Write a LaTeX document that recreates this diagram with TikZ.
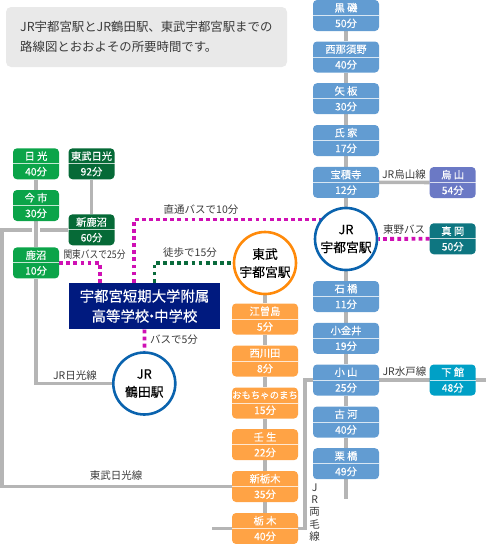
\documentclass[tikz,border=0pt]{standalone}
\usepackage{fontspec}
\usepackage{graphicx}
\setmainfont{Noto Sans CJK JP}
\newfontfamily\medfont[FakeBold=0.25]{Noto Sans CJK JP}
\pgfdeclarelayer{bg}
\pgfsetlayers{bg,main}
\definecolor{cblue}{HTML}{629CD2}
\definecolor{corange}{HTML}{FFA345}
\definecolor{cgreen}{HTML}{0BA449}
\definecolor{cdgreen}{HTML}{066A37}
\definecolor{cviolet}{HTML}{6B79C5}
\definecolor{cteal}{HTML}{0E7681}
\definecolor{ccyan}{HTML}{00A0C6}
\definecolor{cnavy}{HTML}{001A7F}
\definecolor{cmag}{HTML}{CF10B4}
\definecolor{cwalk}{HTML}{0A6B3C}
\definecolor{cline}{HTML}{B5B5B5}
\definecolor{ctext}{HTML}{3A3A3A}
\definecolor{cnote}{HTML}{E9E9E9}
\definecolor{cringb}{HTML}{0A63AE}
\definecolor{cringo}{HTML}{FF8A0A}
\tikzset{
  x=1pt,y=-1pt,
  stnbox/.style={rounded corners=4pt,minimum height=31,inner sep=0pt,text=white,align=center,
    font=\medfont\fontsize{10.3}{15.5}\selectfont},
  split/.style={white,opacity=.75,line width=.9pt},
  railway/.style={cline,line width=3.6pt},
  busdot/.style={cmag,line width=3.8pt,dash pattern=on 3.8pt off 3.3pt},
  walkdot/.style={cwalk,line width=3.8pt,dash pattern=on 3.8pt off 3.3pt},
  lbl/.style={text=ctext,inner sep=0pt,font=\fontsize{10.5}{13}\selectfont},
  hub/.style={circle,fill=white,line width=2.6pt,minimum size=62,inner sep=0pt,align=center,
    font=\medfont\fontsize{12.8}{18}\selectfont},
}
\newcommand{\stn}[6]{%
  \node[stnbox,fill=#5,minimum width=#4] (#1) at (#2,#3) {#6};
  \draw[split] (#1.west) -- (#1.east);}
\begin{document}
\begin{tikzpicture}
\useasboundingbox (0,0) rectangle (486,544);
% note
\node[fill=cnote,rounded corners=5pt,minimum width=281,minimum height=60,inner sep=0pt] (note) at (146.5,37) {};
\node[anchor=west,inner sep=0pt,align=left,text=ctext,font=\fontsize{12.4}{20}\selectfont] (notetext) at (20,37)
 {JR宇都宮駅とJR鶴田駅、東武宇都宮駅までの\\路線図とおおよその所要時間です。};
% blue column
\stn{kuroiso}{346}{15.5}{66}{cblue}{黒 磯\\50分}
\stn{nasuno}{346}{57}{66}{cblue}{西那須野\\40分}
\stn{yaita}{346}{98.7}{66}{cblue}{矢 板\\30分}
\stn{ujiie}{346}{140.5}{66}{cblue}{氏 家\\17分}
\stn{hoshakuji}{346}{182.3}{66}{cblue}{宝積寺\\12分}
\stn{ishibashi}{346}{296.5}{66}{cblue}{石 橋\\11分}
\stn{koganei}{346}{338.3}{66}{cblue}{小金井\\19分}
\stn{oyama}{346}{380}{66}{cblue}{小 山\\25分}
\stn{koga}{346}{422}{66}{cblue}{古 河\\40分}
\stn{kurihashi}{346}{463.7}{66}{cblue}{栗 橋\\49分}
% orange column
\stn{ezo}{265}{319}{66}{corange}{江曽島\\5分}
\stn{nishikawa}{265}{361}{66}{corange}{西川田\\8分}
\stn{omocha}{265}{403}{66}{corange}{{\fontsize{9.4}{15.5}\selectfont おもちゃのまち}\\15分}
\stn{mibu}{265}{444.7}{66}{corange}{壬 生\\22分}
\stn{shintochigi}{265}{486.5}{66}{corange}{新栃木\\35分}
\stn{tochigi}{265}{528.5}{66}{corange}{栃 木\\40分}
% green
\stn{nikko}{36}{163.8}{46}{cgreen}{日 光\\40分}
\stn{imaichi}{36}{205.5}{46}{cgreen}{今 市\\30分}
\stn{kanuma}{36}{262.9}{46}{cgreen}{鹿沼\\10分}
\stn{tobunikko}{91.5}{163.8}{46}{cdgreen}{東武日光\\92分}
\stn{shinkanuma}{91.5}{229.8}{46}{cdgreen}{新鹿沼\\60分}
% branch ends
\stn{karasuyama}{452.7}{182.5}{46}{cviolet}{烏 山\\54分}
\stn{moka}{452.7}{238.8}{46}{cteal}{真 岡\\50分}
\stn{shimodate}{452.7}{380}{46}{ccyan}{下 館\\48分}
% hubs
\node[hub,draw=cringb] (jru) at (346,239) {JR\\宇都宮駅};
\node[hub,draw=cringo] (tobu) at (265,263) {東武\\宇都宮駅};
\node[hub,draw=cringb] (tsuruta) at (144.3,383.5) {JR\\鶴田駅};
% school
\node[fill=cnavy,text=white,minimum width=151,minimum height=46.6,inner sep=0pt,align=center,
  font=\medfont\fontsize{14.4}{20}\selectfont] (school) at (144.5,306) {宇都宮短期大学附属\\高等学校\makebox[5pt][c]{・}中学校};
% free ends and bends
\coordinate (eastend) at (486,380);
\coordinate (westjog) at (304.7,380);
\coordinate (kuritail) at (346,499);
\coordinate (tochistub) at (212,528.5);
\coordinate (nikkobend) at (36,383.5);
\coordinate (tbwest) at (2,229.8);
\coordinate (tbsouth) at (2,486.5);
\coordinate (tbgapl) at (32,229.8);
\coordinate (tbgapr) at (40,229.8);
\coordinate (direct) at (134,219.4);
\coordinate (kanto) at (100,262.9);
\coordinate (walk) at (154.5,262.7);
\begin{pgfonlayer}{bg}
\draw[railway] (kuroiso) -- (nasuno) -- (yaita) -- (ujiie) -- (hoshakuji) -- (jru) -- (ishibashi) -- (koganei) -- (oyama) -- (koga) -- (kurihashi) -- (kuritail);
\draw[railway] (tobu) -- (ezo) -- (nishikawa) -- (omocha) -- (mibu) -- (shintochigi) -- (tochigi);
\draw[railway] (nikko) -- (imaichi) -- (kanuma) -- (nikkobend) -- (tsuruta);
\draw[railway] (tobunikko) -- (shinkanuma) -- (tbgapr);
\draw[railway] (tbgapl) -- (tbwest) -- (tbsouth) -- (shintochigi);
\draw[railway] (hoshakuji) -- (karasuyama);
\draw[railway] (oyama) -- (eastend);
\draw[railway] (oyama) -- (westjog) -- (westjog |- tochigi) -- (tochigi);
\draw[railway] (tochistub) -- (tochigi);
\draw[busdot] (kanuma.east) -- (kanto) -- (kanto |- school.north);
\draw[busdot] (school.north -| direct) -- (direct) -- (direct -| jru);
\draw[busdot] (moka.west) -- (jru);
\draw[busdot] (school.south) -- (tsuruta);
\draw[walkdot] (school.north -| walk) -- (walk) -- (walk -| tobu);
\end{pgfonlayer}
% labels
\node[lbl] (l1) at (404,174) {JR烏山線};
\node[lbl] (l2) at (404,230) {東野バス};
\node[lbl] (l3) at (404.5,372) {JR水戸線};
\node[lbl,align=center,font=\fontsize{10.5}{12.3}\selectfont] (l4) at (314.7,512.5) {J\\R\\両\\毛\\線};
\node[lbl] (l5) at (201,210) {直通バスで10分};
\node[lbl] (l6) at (190,253) {徒歩で15分};
\node[lbl] (l7) at (94.5,254.5) {\scalebox{.83}[1]{関東バスで25分}};
\node[lbl] (l8) at (174,339.5) {バスで5分};
\node[lbl] (l9) at (75,375) {JR日光線};
\node[lbl] (l10) at (116,476) {東武日光線};
\end{tikzpicture}
\end{document}
